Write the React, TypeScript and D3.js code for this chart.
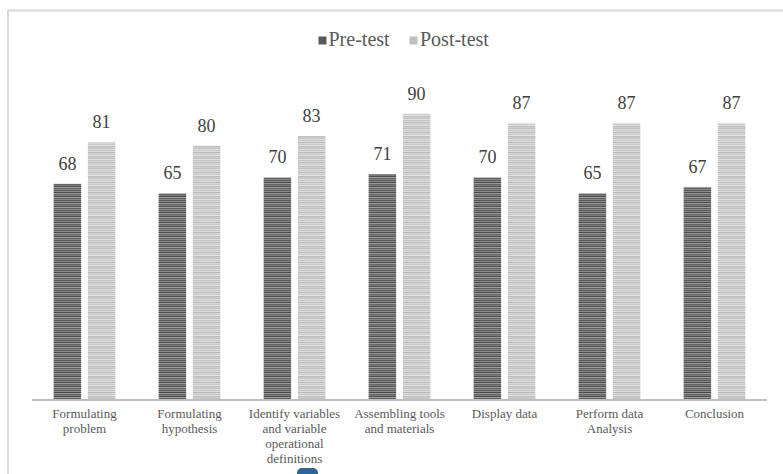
import * as d3 from 'd3';
import React from 'react';

const width = 783;
const height = 474;
const margin = { top: 82, left: 32, axisRight: 767, baseline: 400 };

const categories = [
  'Formulating problem',
  'Formulating hypothesis',
  'Identify variables and variable operational definitions',
  'Assembling tools and materials',
  'Display data',
  'Perform data Analysis',
  'Conclusion',
];
// how the labels wrap under the axis in the original
const categoryLines = [
  ['Formulating', 'problem'],
  ['Formulating', 'hypothesis'],
  ['Identify variables', 'and variable', 'operational', 'definitions'],
  ['Assembling tools', 'and materials'],
  ['Display data'],
  ['Perform data', 'Analysis'],
  ['Conclusion'],
];
const series = ['Pre-test', 'Post-test'];
const preTest = [68, 65, 70, 71, 70, 65, 67];
const postTest = [81, 80, 83, 90, 87, 87, 87];

// stripe greys for the two fills (1px rows, repeated)
const preStripes = ['#5a5a5a', '#8a8a8a', '#4a4a4a', '#9a9a9a', '#666', '#7a7a7a', '#505050', '#a0a0a0', '#606060', '#888'];
const postStripes = ['#c4c4c4', '#dedede', '#b8b8b8', '#d8d8d8', '#c8c8c8', '#e4e4e4', '#bcbcbc', '#d0d0d0', '#c0c0c0', '#e0e0e0'];

const font = 'Liberation Serif';

export default function App() {
  const values = [preTest, postTest];
  const x = d3
    .scaleBand<string>()
    .domain(categories)
    .range([margin.left, margin.axisRight])
    .paddingInner(0)
    .paddingOuter(0);
  const bw = x.bandwidth();
  const groupW = bw * 0.588;
  const xs = d3
    .scaleBand<string>()
    .domain(series)
    .range([(bw - groupW) / 2, (bw + groupW) / 2])
    .paddingInner(0.196)
    .paddingOuter(0);
  const y = d3.scaleLinear().domain([0, 100]).range([margin.baseline, margin.top]);
  const fills = ['url(#preFill)', 'url(#postFill)'];

  return (
    <svg
      width={width}
      height={height}
      style={{ position: 'absolute', left: 0, top: 0, display: 'block', background: '#fff' }}
    >
      <defs>
        <pattern id="preFill" patternUnits="userSpaceOnUse" width={4} height={preStripes.length}>
          {preStripes.map((c, i) => (
            <rect key={i} x={0} y={i} width={4} height={1} fill={c} />
          ))}
        </pattern>
        <pattern id="postFill" patternUnits="userSpaceOnUse" width={4} height={postStripes.length}>
          {postStripes.map((c, i) => (
            <rect key={i} x={0} y={i} width={4} height={1} fill={c} />
          ))}
        </pattern>
      </defs>

      {/* chart frame */}
      <rect x={8} y={10.5} width={800} height={480} fill="none" stroke="#d9d9d9" strokeWidth={2} />

      {/* legend */}
      <rect x={318.5} y={36.5} width={8} height={8} fill="#595959" />
      <text x={328.5} y={46} fontSize={20} fill="#595959" style={{ fontFamily: font }}>
        {series[0]}
      </text>
      <rect x={409.5} y={36.5} width={8} height={8} fill="#bfbfbf" />
      <text x={420} y={46} fontSize={20} fill="#595959" style={{ fontFamily: font }}>
        {series[1]}
      </text>

      {/* bars */}
      {categories.map((c, i) => (
        <g key={c} transform={`translate(${x(c)},0)`}>
          {series.map((s, j) => {
            const v = values[j][i];
            const bx = xs(s) as number;
            return (
              <g key={s}>
                <rect
                  x={bx}
                  y={y(v)}
                  width={xs.bandwidth()}
                  height={y(0) - y(v)}
                  fill={fills[j]}
                />
                <text
                  x={bx + xs.bandwidth() / 2}
                  y={y(v) - 14}
                  textAnchor="middle"
                  style={{ fontFamily: font }}
                  fontSize={18}
                  fill="#404040"
                >
                  {v}
                </text>
              </g>
            );
          })}
        </g>
      ))}

      {/* axis line */}
      <line x1={x.range()[0]} x2={x.range()[1]} y1={y(0)} y2={y(0)} stroke="#bfbfbf" strokeWidth={2} />

      {/* category labels */}
      {categories.map((c, i) => (
        <text
          key={c}
          x={(x(c) as number) + bw / 2}
          y={418}
          textAnchor="middle"
          style={{ fontFamily: font }}
          fontSize={13}
          fill="#595959"
        >
          {categoryLines[i].map((ln, k) => (
            <tspan key={k} x={(x(c) as number) + bw / 2} dy={k === 0 ? 0 : 15}>
              {ln}
            </tspan>
          ))}
        </text>
      ))}

      {/* little blue marker at bottom edge */}
      <rect x={297} y={468} width={21} height={12} rx={5} fill="#2f6496" />
    </svg>
  );
}
